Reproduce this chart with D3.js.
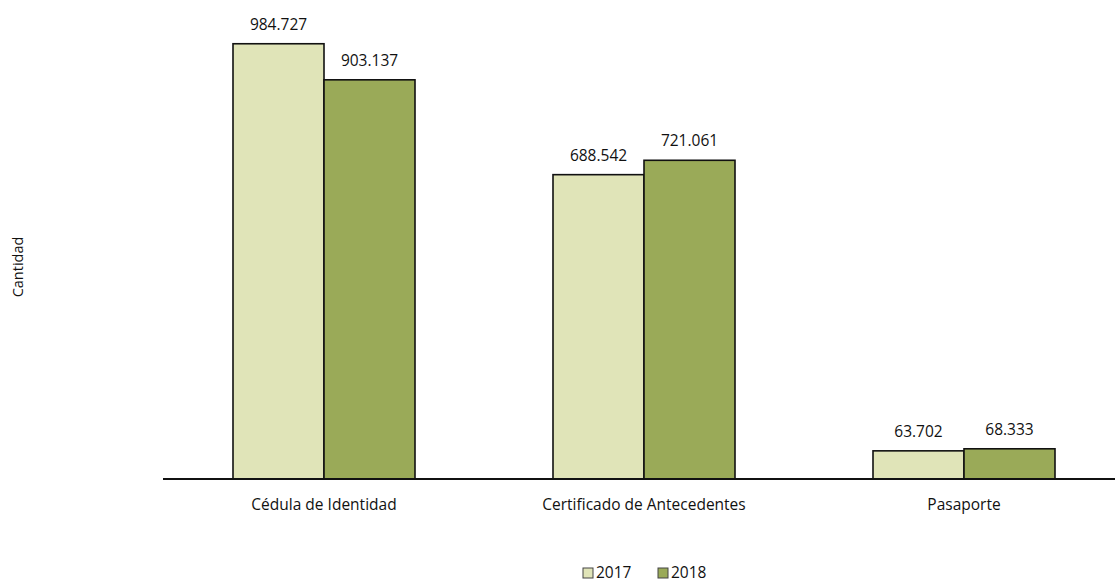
<!DOCTYPE html>
<html>
<head>
<meta charset="utf-8">
<script src="https://cdn.jsdelivr.net/npm/d3@7"></script>
<style>
  body { margin: 0; background: #fff; }
  svg { display: block; font-family: "Open Sans", sans-serif; }
</style>
</head>
<body>
<svg id="chart" width="1115" height="583"></svg>
<script>
// Trámites por tipo de documento, 2017 vs 2018
const categories = ["Cédula de Identidad", "Certificado de Antecedentes", "Pasaporte"];
const years = ["2017", "2018"];
const values2017 = [984727, 688542, 63702];
const values2018 = [903137, 721061, 68333];
const colors = ["#e0e4b8", "#9aaa58"];

const fmt = v => d3.format(",")(v).replace(/,/g, ".");

const svg = d3.select("#chart");
const baseY = 479;

const x = d3.scaleBand().domain(categories).range([164, 1124]);
const groupW = 182;
const xi = d3.scaleBand().domain(years).range([0, groupW]);
const y = d3.scaleLinear().domain([0, 1000000]).range([baseY, 37]);

const series = [values2017, values2018];

categories.forEach((c, ci) => {
  const gx = x(c) + (x.bandwidth() - groupW) / 2;
  years.forEach((yr, si) => {
    const v = series[si][ci];
    svg.append("rect")
      .attr("x", gx + xi(yr))
      .attr("y", y(v))
      .attr("width", xi.bandwidth())
      .attr("height", baseY - y(v))
      .attr("fill", colors[si])
      .attr("stroke", "#111")
      .attr("stroke-width", 1.6);
    svg.append("text")
      .attr("x", gx + xi(yr) + xi.bandwidth() / 2)
      .attr("y", y(v) - 14)
      .attr("text-anchor", "middle")
      .attr("font-size", 15.5)
      .attr("fill", "#111")
      .text(fmt(v));
  });
  svg.append("text")
    .attr("x", x(c) + x.bandwidth() / 2)
    .attr("y", 510)
    .attr("text-anchor", "middle")
    .attr("font-size", 15.5)
    .attr("fill", "#111")
    .text(c);
});

// baseline
svg.append("line")
  .attr("x1", 163).attr("x2", 1115)
  .attr("y1", baseY).attr("y2", baseY)
  .attr("stroke", "#111").attr("stroke-width", 2);

// y-axis title
svg.append("text")
  .attr("transform", "translate(23,267) rotate(-90)")
  .attr("text-anchor", "middle")
  .attr("font-size", 14.5)
  .attr("fill", "#111")
  .text("Cantidad");

// legend
const legendX = [583, 658];
years.forEach((yr, i) => {
  svg.append("rect")
    .attr("x", legendX[i]).attr("y", 568)
    .attr("width", 10).attr("height", 10)
    .attr("fill", colors[i])
    .attr("stroke", "#444").attr("stroke-width", 1);
  svg.append("text")
    .attr("x", legendX[i] + 13).attr("y", 578)
    .attr("font-size", 15.5)
    .attr("fill", "#111")
    .text(yr);
});
</script>
</body>
</html>
